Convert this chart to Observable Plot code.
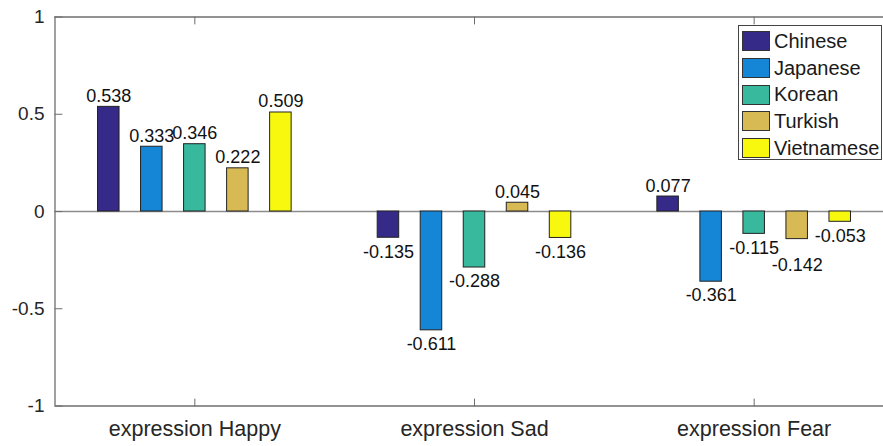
<!DOCTYPE html>
<html>
<head>
<meta charset="utf-8">
<script src="https://cdn.jsdelivr.net/npm/d3@7"></script>
<script src="https://cdn.jsdelivr.net/npm/@observablehq/plot@0.6"></script>
<style>
  html, body { margin: 0; padding: 0; background: #fff; overflow: hidden; }
  #wrap { position: relative; width: 883px; height: 446px; }
  #legend {
    position: absolute; left: 738px; top: 25px; width: 144px; height: 135px;
    border: 1px solid #444; background: #fff; box-sizing: border-box;
    font-family: "Liberation Sans", Arial, sans-serif; font-size: 20px; color: #1a1a1a;
    padding-top: 2px;
  }
  .item { display: flex; align-items: center; height: 26.7px; }
  .sw { width: 28px; height: 20px; border: 1px solid #333; margin-left: 3px; margin-right: 4px; box-sizing: border-box; flex: none; }
</style>
</head>
<body>
<div id="wrap">
  <div id="chart"></div>
  <div id="legend"></div>
</div>
<script>
const categories = ["expression Happy", "expression Sad", "expression Fear"];
const series = ["Chinese", "Japanese", "Korean", "Turkish", "Vietnamese"];
const colors = ["#352a87", "#1585d6", "#38b99d", "#d8ba55", "#f8f80f"];
const happy = [0.538, 0.333, 0.346, 0.222, 0.509];
const sad = [-0.135, -0.611, -0.288, 0.045, -0.136];
const fear = [0.077, -0.361, -0.115, -0.142, -0.053];
const yTicks = [-1, -0.5, 0, 0.5, 1];
// labels that sit lower in the reference to avoid a neighbour
const loweredLabels = [["expression Fear", "Turkish"]];

const values = [happy, sad, fear];
const groupWidth = 5 / (5 + 1.5);
const spacing = groupWidth / 5;
const barWidth = spacing * 0.5;

const data = [];
categories.forEach((c, g) => {
  series.forEach((s, j) => {
    const center = g + 1 + (j - 2) * spacing;
    const lowered = loweredLabels.some(([lc, ls]) => lc === c && ls === s);
    data.push({category: c, series: s, value: values[g][j], center, lowered, x1: center - barWidth / 2, x2: center + barWidth / 2});
  });
});

const tickShape = {draw(context, l) { context.moveTo(0, 0); context.lineTo(0, -l); }};
const font = '"Liberation Sans", Arial, Helvetica, sans-serif';
const axisColor = "#6e6e6e";
const catIdx = categories.map((c, i) => i + 1);
const fmt = d => d.value.toFixed(3);

const chart = Plot.plot({
  width: 883,
  height: 446,
  marginLeft: 55,
  marginTop: 16,
  marginBottom: 40,
  marginRight: 0,
  style: {fontFamily: font, background: "white", overflow: "visible"},
  x: {domain: [0.5, 3.5], range: [54.5, 893.5]},
  y: {domain: [-1, 1], range: [405.5, 16.5]},
  color: {domain: series, range: colors},
  marks: [
    Plot.ruleY([0], {x1: 0.5, x2: 3.5, stroke: "#8c8c8c", strokeWidth: 1.5}),
    Plot.rectY(data, {x1: "x1", x2: "x2", y1: 0, y2: "value", fill: "series", stroke: "#222", strokeWidth: 1}),
    Plot.text(data.filter(d => d.value >= 0), {x: "center", y: "value", text: fmt, lineAnchor: "bottom", dy: -5, fontSize: 18, fill: "#111"}),
    Plot.text(data.filter(d => d.value < 0 && !d.lowered), {x: "center", y: "value", text: fmt, lineAnchor: "top", dy: 7, fontSize: 18, fill: "#111"}),
    Plot.text(data.filter(d => d.value < 0 && d.lowered), {x: "center", y: "value", text: fmt, lineAnchor: "top", dy: 19, fontSize: 18, fill: "#111"}),
    // box
    Plot.ruleY([-1, 1], {x1: 0.5, x2: 3.5, stroke: axisColor, strokeWidth: 1.3}),
    Plot.ruleX([0.5], {y1: -1, y2: 1, stroke: axisColor, strokeWidth: 1.3}),
    // inward ticks
    Plot.vector(yTicks, {x: 0.5, y: d => d, length: 7, rotate: 90, anchor: "start", shape: tickShape, stroke: axisColor, strokeWidth: 1}),
    Plot.vector(catIdx, {x: d => d, y: -1, length: 7, rotate: 0, anchor: "start", shape: tickShape, stroke: axisColor, strokeWidth: 1}),
    Plot.vector(catIdx, {x: d => d, y: 1, length: 7, rotate: 180, anchor: "start", shape: tickShape, stroke: axisColor, strokeWidth: 1}),
    // tick labels
    Plot.axisY({ticks: yTicks, tickSize: 0, tickPadding: 11, tickFormat: d => String(d), fontSize: 19, fill: "#262626", label: null}),
    Plot.axisX({ticks: catIdx, tickSize: 0, tickPadding: 14, tickFormat: d => categories[d - 1], fontSize: 21.5, fill: "#262626", label: null})
  ]
});
document.getElementById("chart").appendChild(chart);

const legend = document.getElementById("legend");
series.forEach((s, i) => {
  const item = document.createElement("div");
  item.className = "item";
  const sw = document.createElement("div");
  sw.className = "sw";
  sw.style.background = colors[i];
  const lab = document.createElement("span");
  lab.textContent = s;
  item.appendChild(sw);
  item.appendChild(lab);
  legend.appendChild(item);
});
</script>
</body>
</html>
